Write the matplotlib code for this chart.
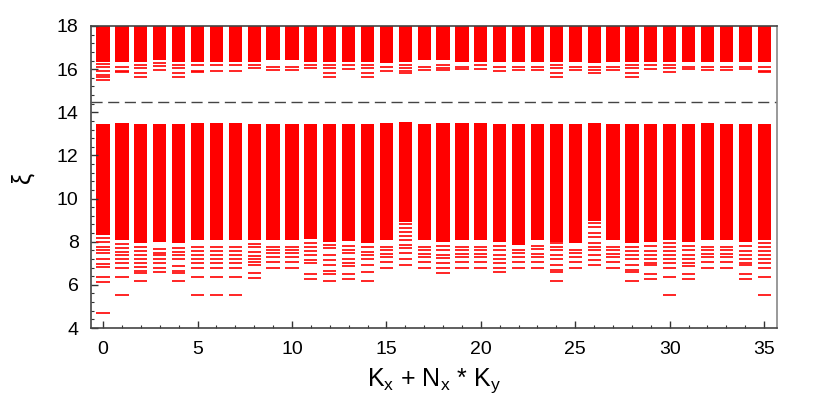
import matplotlib
matplotlib.use("Agg")
import matplotlib.pyplot as plt
from matplotlib.ticker import MultipleLocator

plt.rcParams['font.family'] = ['Liberation Sans', 'DejaVu Sans']

# momentum sector index
columns = list(range(36))

# isolated low-lying levels below the lower dense band
low_levels = [
    [4.68, 6.15, 6.38, 6.81, 6.97, 7.20, 7.49, 7.62, 7.75, 8.00, 8.15],
    [5.53, 6.35, 6.80, 7.00, 7.20, 7.39, 7.54, 7.69, 7.90],
    [6.20, 6.57, 6.66, 6.84, 7.00, 7.20, 7.39, 7.59, 7.74],
    [6.60, 6.80, 7.00, 7.20, 7.39, 7.49, 7.65],
    [6.20, 6.57, 6.66, 6.89, 7.20, 7.39, 7.54, 7.69],
    [5.53, 6.35, 6.80, 7.00, 7.20, 7.39, 7.59, 7.74],
    [5.53, 6.35, 6.80, 7.00, 7.20, 7.39, 7.59, 7.74],
    [5.53, 6.35, 6.80, 7.00, 7.20, 7.39, 7.59, 7.74],
    [6.30, 6.55, 6.92, 7.06, 7.20, 7.33, 7.54, 7.74, 7.88],
    [6.77, 7.08, 7.31, 7.46, 7.62, 7.77],
    [6.77, 7.08, 7.31, 7.46, 7.62, 7.77],
    [6.26, 6.50, 7.00, 7.15, 7.39, 7.59, 7.74, 7.96],
    [6.20, 6.50, 6.64, 6.92, 7.15, 7.39, 7.69, 7.85],
    [6.27, 6.49, 6.88, 7.00, 7.18, 7.46, 7.62, 7.80],
    [6.20, 6.61, 6.92, 7.18, 7.39, 7.54, 7.74],
    [6.77, 7.08, 7.31, 7.43, 7.62, 7.77],
    [6.92, 7.20, 7.46, 7.69, 7.85, 8.08, 8.27, 8.47, 8.62, 8.81],
    [6.77, 7.08, 7.31, 7.43, 7.62, 7.77],
    [6.57, 6.77, 7.00, 7.23, 7.39, 7.62, 7.80],
    [6.77, 7.08, 7.31, 7.43, 7.62, 7.74],
    [6.77, 7.08, 7.31, 7.43, 7.62, 7.74],
    [6.58, 6.77, 7.00, 7.18, 7.39, 7.62, 7.80],
    [6.77, 7.08, 7.31, 7.46, 7.62],
    [6.77, 7.08, 7.31, 7.43, 7.65, 7.80],
    [6.20, 6.61, 6.69, 6.92, 7.18, 7.39, 7.62, 7.74, 7.93],
    [6.77, 7.08, 7.31, 7.46, 7.62],
    [6.92, 7.15, 7.39, 7.62, 7.77, 7.93, 8.24, 8.42, 8.70, 8.85],
    [6.77, 7.08, 7.31, 7.43, 7.62, 7.77],
    [6.20, 6.61, 6.69, 6.92, 7.18, 7.39, 7.59, 7.74],
    [6.27, 6.51, 6.92, 7.03, 7.20, 7.39, 7.59, 7.80],
    [5.53, 6.35, 6.80, 7.00, 7.20, 7.39, 7.59, 7.74, 7.93],
    [6.27, 6.49, 6.88, 7.00, 7.18, 7.39, 7.62, 7.80],
    [6.77, 7.08, 7.31, 7.43, 7.62, 7.77],
    [6.77, 7.08, 7.31, 7.43, 7.62, 7.77],
    [6.27, 6.51, 6.92, 7.03, 7.20, 7.39, 7.59, 7.80],
    [5.53, 6.35, 6.80, 7.00, 7.20, 7.39, 7.59, 7.74, 7.93],
]

# lower dense band (bottom, top)
low_band_bottom = [8.30, 8.10, 7.96, 7.98, 7.96, 8.10, 8.10, 8.10, 8.10, 8.10,
                   8.10, 8.13, 8.00, 8.05, 7.96, 8.10, 8.90, 8.10, 8.00, 8.10,
                   8.10, 8.00, 7.85, 8.10, 8.00, 7.95, 8.95, 8.10, 7.96, 8.00,
                   8.10, 8.00, 8.10, 8.10, 8.00, 8.10]
low_band_top = [13.48, 13.50, 13.45, 13.47, 13.47, 13.50, 13.50, 13.50, 13.45, 13.47,
                13.48, 13.48, 13.45, 13.48, 13.45, 13.50, 13.55, 13.48, 13.50, 13.50,
                13.50, 13.48, 13.48, 13.48, 13.45, 13.48, 13.52, 13.48, 13.45, 13.45,
                13.48, 13.48, 13.50, 13.48, 13.45, 13.48]

# upper dense band bottom edge, and isolated levels just below it
up_band_bottom = [16.35, 16.35, 16.35, 16.42, 16.35, 16.35, 16.35, 16.35, 16.35, 16.42,
                  16.42, 16.35, 16.35, 16.35, 16.35, 16.28, 16.35, 16.42, 16.42, 16.35,
                  16.35, 16.35, 16.35, 16.35, 16.35, 16.35, 16.28, 16.35, 16.35, 16.35,
                  16.35, 16.35, 16.35, 16.35, 16.35, 16.35]
up_levels = [
    [16.25, 16.10, 15.93, 15.73, 15.62, 15.50],
    [16.10, 15.92, 15.88],
    [16.19, 16.04, 15.81, 15.62],
    [16.30, 16.14, 15.96],
    [16.19, 16.04, 15.81, 15.62],
    [16.19, 15.92, 15.88],
    [16.19, 15.90],
    [16.19, 15.90],
    [16.19, 16.04],
    [16.11, 15.96],
    [16.11, 15.96],
    [16.19, 16.04],
    [16.19, 16.04, 15.81, 15.62],
    [16.19, 16.02],
    [16.19, 16.04, 15.81, 15.62],
    [16.11, 15.93],
    [16.19, 16.04, 15.93, 15.81],
    [16.11, 15.96],
    [16.19, 16.04, 15.96],
    [16.11, 16.00],
    [16.19, 16.00],
    [16.11, 15.93],
    [16.11, 15.96],
    [16.11, 15.96],
    [16.19, 16.04, 15.81, 15.62],
    [16.11, 15.96],
    [16.11, 15.96, 15.84],
    [16.11, 15.96],
    [16.19, 16.04, 15.81, 15.62],
    [16.19, 16.00],
    [16.19, 16.04, 15.88],
    [16.11, 16.00],
    [16.11, 15.96],
    [16.11, 15.96],
    [16.11, 16.00],
    [16.11, 15.90, 15.86],
]
up_band_top = 18.5
gap_level = 14.5

x_ticks = [0, 5, 10, 15, 20, 25, 30, 35]
y_ticks = [4, 6, 8, 10, 12, 14, 16, 18]

fig = plt.figure(figsize=(8.14, 4.18), dpi=100)
ax = fig.add_axes([0.1118, 0.2153, 0.8427, 0.7225])

w = 0.7
red = '#ff0000'
# dense bands
ax.bar(columns, [t - b for t, b in zip(low_band_top, low_band_bottom)],
       bottom=low_band_bottom, width=w, color=red, linewidth=0)
ax.bar(columns, [up_band_top - b for b in up_band_bottom],
       bottom=up_band_bottom, width=w, color=red, linewidth=0)
# isolated levels
for k, lv in zip(columns, low_levels):
    ax.hlines(lv, k - w / 2, k + w / 2, color=red, linewidth=1.2)
for k, lv in zip(columns, up_levels):
    ax.hlines(lv, k - w / 2, k + w / 2, color=red, linewidth=1.2)

ax.axhline(gap_level, color='#444444', linewidth=1.0, linestyle=(0, (8, 4)))

ax.set_xlim(-0.64, 35.68)
ax.set_ylim(4, 18)
ax.set_xticks(x_ticks)
ax.set_yticks(y_ticks)
ax.xaxis.set_minor_locator(MultipleLocator(1))
ax.yaxis.set_minor_locator(MultipleLocator(0.4))
ax.tick_params(axis='both', which='both', direction='in', color='#333333',
               labelsize=14, top=False, right=False)
ax.tick_params(axis='both', which='major', length=5, width=1)
ax.tick_params(axis='both', which='minor', length=2.5, width=0.8)
ax.tick_params(axis='x', pad=9)
ax.tick_params(axis='y', pad=9)
for side, sp in ax.spines.items():
    sp.set_color('#444444')
    sp.set_linewidth(1.2)
ax.spines['right'].set_color('#888888')

ax.set_xlabel(r'K$_\mathregular{x}$ + N$_\mathregular{x}$ * K$_\mathregular{y}$', fontsize=18, labelpad=6)
ax.set_ylabel('ξ', fontsize=18, labelpad=16)

fig.savefig('out.png', dpi=100)
